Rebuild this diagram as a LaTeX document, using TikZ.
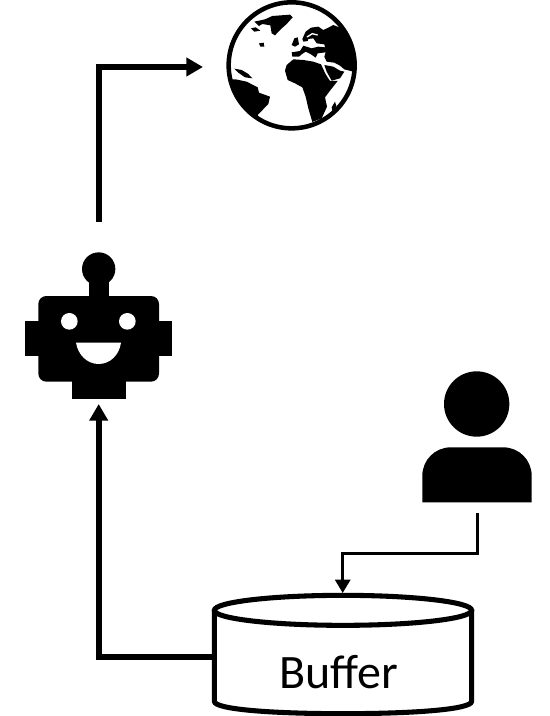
\documentclass[tikz,border=0pt]{standalone}
\usepackage{fontspec}
\setmainfont{Carlito}
\usetikzlibrary{arrows.meta}
\tikzset{
  x=0.75pt,y=-0.75pt,
  anchorbox/.style={inner sep=0pt,outer sep=0pt,minimum width=#1},
  thickconn/.style={line width=4.3pt,-{Triangle[length=12.5pt,width=13.5pt]},line join=miter},
  thinconn/.style={line width=2.3pt,-{Triangle[length=10pt,width=11.25pt]},line join=miter},
  icon/.style={fill=black,draw=none},
  hole/.style={fill=white,draw=none}
}
\begin{document}
\begin{tikzpicture}
\useasboundingbox (0,0) rectangle (549,716);
% anchor nodes that carry the connector ends
\node[anchorbox=133.5pt,minimum height=97.5pt] (globe) at (292,67) {};
\node[anchorbox=112.5pt,minimum height=136.5pt] (robot) at (98.7,313) {};
\node[anchorbox=82.5pt,minimum height=109.5pt] (person) at (477.3,440) {};
\node[anchorbox=192pt,minimum height=96pt] (buffer) at (342.7,657) {};
% globe
\begin{scope}[shift={(215,0)},x=0.25pt,y=-0.25pt]
  \draw[line width=3.4pt,fill=white] (230,196) circle[radius=189];
  \begin{scope}
  \clip (230,196) circle[radius=189];
  \fill (118,65) -- (150,58) -- (172,48) -- (225,44) -- (233,52) -- (215,72) -- (197,88) -- (180,106) -- (170,100) -- (166,76) -- (142,72) -- (132,78) -- cycle;
  \fill (108,85) -- (122,82) -- (136,92) -- (118,95) -- cycle;
  \fill (132,130) -- (146,128) -- (148,140) -- (136,140) -- cycle;
  \fill (238,115) -- (248,112) -- (252,133) -- (240,140) -- (230,135) -- cycle;
  \begin{scope}[shift={(210,45)}]
    % Eurasia
    \fill (52,72) -- (62,50) -- (78,38) -- (100,35) -- (115,45) -- (130,38) -- (145,30) -- (165,38) -- (240,60) -- (240,172) -- (205,170) -- (178,163) -- (165,152) -- (148,143) -- (125,140) -- (118,125) -- (122,112) -- (98,115) -- (92,128) -- (78,118) -- (62,110) -- (50,118) -- (42,125) -- (22,125) -- (20,112) -- (45,108) -- (55,92) -- (80,100) -- (100,95) -- (120,97) -- (118,88) -- (95,85) -- (85,70) -- (70,72) -- (68,78) -- (55,80) -- cycle;
    \draw[white,line width=1pt] (66,66) -- (82,56) -- (98,60);
    % Arabia
    \fill (118,150) -- (145,155) -- (165,167) -- (178,170) -- (165,190) -- (140,197) -- (125,170) -- cycle;
    % Africa
    \fill (0,167) -- (5,150) -- (25,133) -- (55,135) -- (85,140) -- (108,148) -- (122,178) -- (135,198) -- (158,198) -- (135,227) -- (120,247) -- (126,275) -- (110,310) -- (82,321) -- (70,280) -- (62,245) -- (52,217) -- (30,205) -- (8,195) -- cycle;
    \fill (140,277) -- (150,260) -- (154,273) -- (144,295) -- cycle;
  \end{scope}
  % Americas
  \fill (20,240) -- (62,238) -- (95,245) -- (128,262) -- (132,278) -- (165,290) -- (160,312) -- (128,345) -- (136,366) -- (100,400) -- (20,400) -- cycle;
  \fill (58,206) -- (80,210) -- (100,222) -- (112,235) -- (90,232) -- (70,218) -- cycle;
  \end{scope}
\end{scope}
% robot
\begin{scope}[shift={(10,240)},x=0.25pt,y=-0.25pt]
  \fill[icon,rounded corners=6pt] (85,168) -- (447,168) -- (447,425) -- (85,425) -- cycle;
  \fill[icon] (236,120) rectangle (296,170);
  \fill[icon] (45,243) rectangle (485,348);
  \fill[icon] (185,420) rectangle (348,476);
  \fill[icon] (266,87) circle[radius=12.5pt];
  \fill[hole] (178,244) circle[radius=6.25pt] (352,244) circle[radius=6.25pt];
  \fill[hole] (198,308) -- (333,308) .. controls (328,345) and (300,372) .. (266,372) .. controls (232,372) and (204,345) .. (198,308) -- cycle;
\end{scope}
% person
\begin{scope}[shift={(410,360)},x=0.25pt,y=-0.25pt]
  \fill[icon] (200,132) circle[radius=24.5pt];
  \fill[icon] (37,427) -- (37,347) .. controls (37,300) and (75,262) .. (122,262) -- (280,262) .. controls (327,262) and (365,300) .. (365,347) -- (365,427) -- cycle;
\end{scope}
% buffer
\begin{scope}[shift={(200,540)},x=0.25pt,y=-0.25pt]
  \draw[line width=3.8pt,line join=round,fill=white] (43,211) -- (43,484) .. controls (43,508) and (215,521) .. (429,521) .. controls (643,521) and (815,508) .. (815,484) -- (815,211);
  \draw[line width=3.8pt,fill=white] (429,211) ellipse[x radius=96.5pt,y radius=11.25pt];
\end{scope}
\node[font=\fontsize{36pt}{42pt}\selectfont,inner sep=0pt] (bufferlabel) at (338.5,672) {Buffer};
% connectors
\draw[thickconn] (robot.north) |- (globe.west);
\draw[thickconn] (buffer.west) -| (robot.south);
\draw[thinconn] (person.south) |- ++(-67.5,40.5) -| (buffer.north);
\end{tikzpicture}
\end{document}
